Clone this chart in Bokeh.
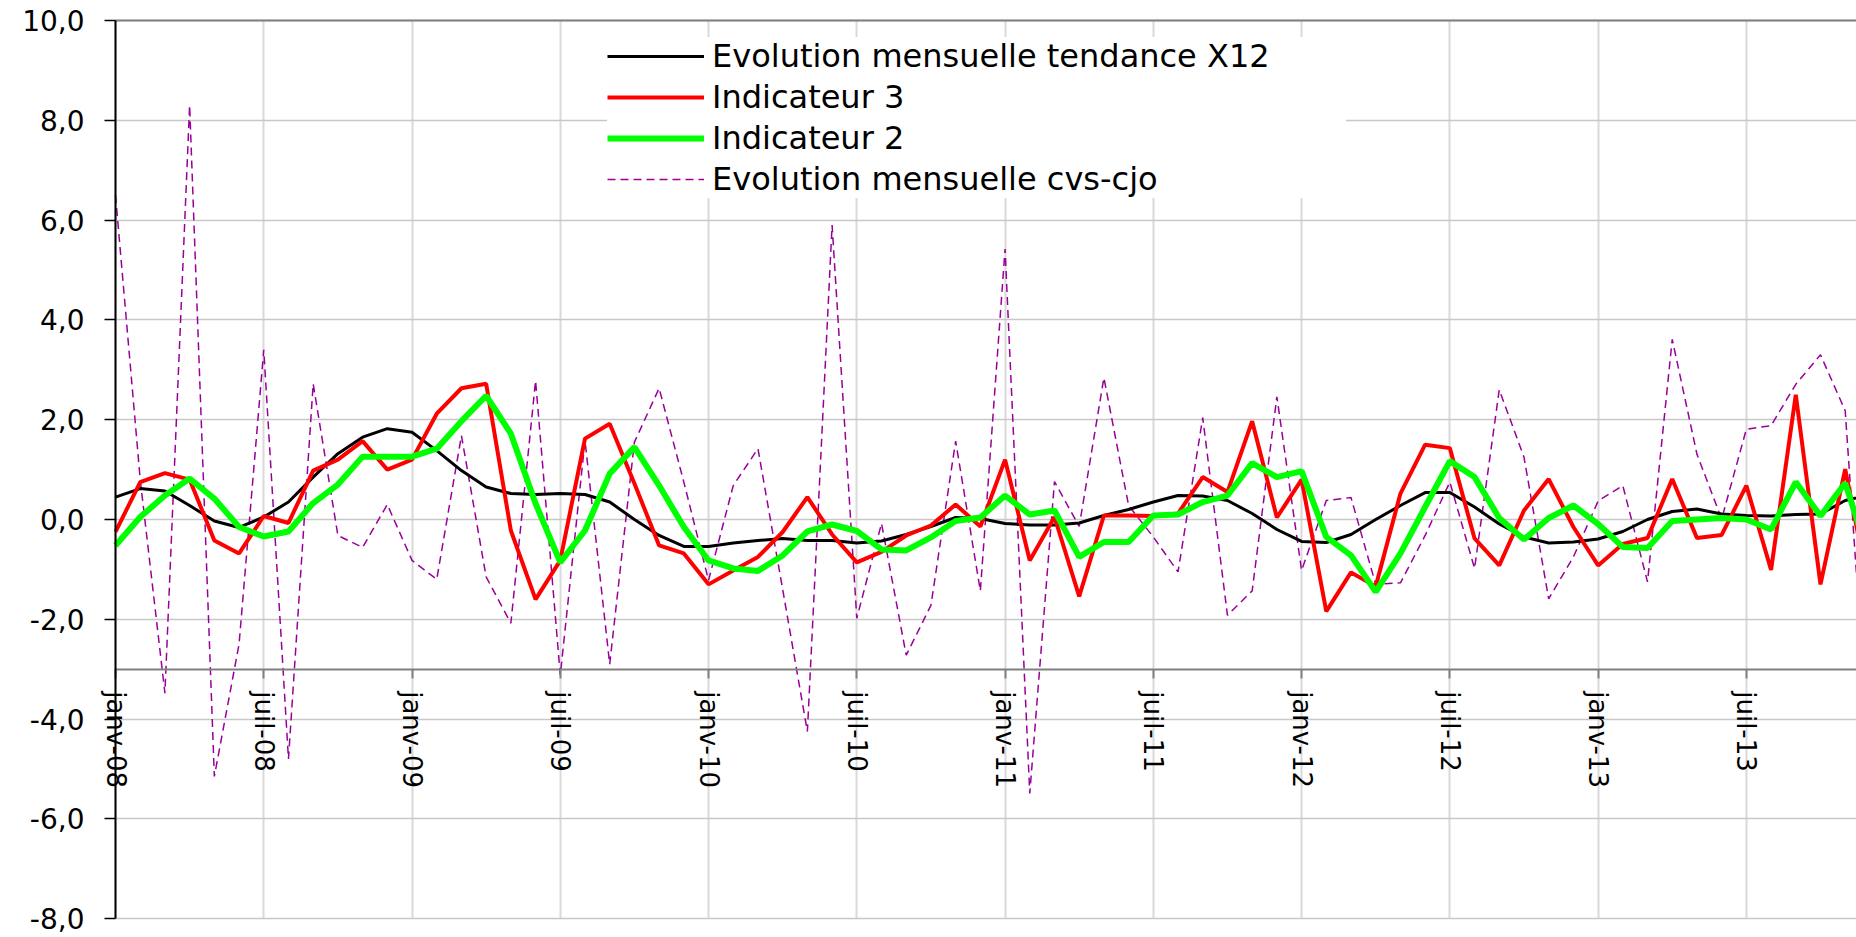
import math
from bokeh.plotting import figure
from bokeh.models import Range1d, FixedTicker, Legend, LegendItem, Label, Grid
from bokeh.embed import file_html
from bokeh.resources import INLINE

# ---- data -------------------------------------------------------------
months = list(range(72))  # janv-08 ... déc-13

tick_months = [0, 6, 12, 18, 24, 30, 36, 42, 48, 54, 60, 66]
tick_labels = ["janv-08", "juil-08", "janv-09", "juil-09", "janv-10", "juil-10",
               "janv-11", "juil-11", "janv-12", "juil-12", "janv-13", "juil-13"]

y_ticks = [-8, -6, -4, -2, 0, 2, 4, 6, 8, 10]
y_tick_labels = ["-8,0", "-6,0", "-4,0", "-2,0", "0,0", "2,0", "4,0", "6,0", "8,0", "10,0"]

x_axis_crossing = -3  # the category axis crosses the value axis at -3

names = ["Evolution mensuelle tendance X12", "Indicateur 3", "Indicateur 2",
         "Evolution mensuelle cvs-cjo"]

tendance_x12 = [0.45, 0.62, 0.57, 0.28, -0.03, -0.16, 0.05, 0.35, 0.85, 1.32, 1.65, 1.82,
                1.75, 1.38, 0.98, 0.65, 0.52, 0.50, 0.52, 0.50, 0.35, 0.00, -0.32, -0.54,
                -0.54, -0.47, -0.42, -0.38, -0.42, -0.42, -0.47, -0.43, -0.30, -0.14, 0.04, 0.02,
                -0.08, -0.11, -0.11, -0.07, 0.08, 0.20, 0.35, 0.48, 0.47, 0.38, 0.12, -0.20,
                -0.44, -0.46, -0.30, 0.00, 0.28, 0.54, 0.54, 0.25, -0.09, -0.35, -0.47, -0.45,
                -0.39, -0.24, 0.00, 0.16, 0.21, 0.11, 0.08, 0.07, 0.10, 0.11, 0.38, 0.50]

indicateur_3 = [-0.25, 0.75, 0.93, 0.80, -0.42, -0.68, 0.07, -0.07, 0.98, 1.20, 1.57, 1.00,
                1.20, 2.12, 2.63, 2.72, -0.22, -1.60, -0.82, 1.62, 1.92, 0.72, -0.52, -0.68,
                -1.30, -1.02, -0.75, -0.25, 0.45, -0.30, -0.86, -0.65, -0.32, -0.12, 0.30, -0.14,
                1.20, -0.82, 0.05, -1.54, 0.08, 0.08, 0.07, 0.12, 0.85, 0.55, 1.97, 0.04,
                0.80, -1.84, -1.06, -1.34, 0.52, 1.50, 1.43, -0.38, -0.92, 0.18, 0.81, -0.15,
                -0.92, -0.49, -0.37, 0.81, -0.37, -0.31, 0.68, -1.01, 2.50, -1.30, 1.01, -1.50]

indicateur_2 = [-0.52, 0.05, 0.48, 0.82, 0.42, -0.15, -0.34, -0.24, 0.33, 0.70, 1.26, 1.26,
                1.26, 1.42, 1.97, 2.48, 1.72, 0.32, -0.86, -0.22, 0.92, 1.45, 0.68, -0.15,
                -0.82, -0.98, -1.03, -0.72, -0.24, -0.10, -0.23, -0.60, -0.62, -0.36, -0.03, 0.04,
                0.48, 0.10, 0.18, -0.75, -0.45, -0.45, 0.08, 0.10, 0.35, 0.48, 1.13, 0.85,
                0.97, -0.35, -0.72, -1.45, -0.68, 0.25, 1.17, 0.85, 0.03, -0.40, 0.03, 0.28,
                -0.09, -0.55, -0.57, -0.03, 0.00, 0.03, 0.00, -0.20, 0.75, 0.07, 0.73, -0.80]

cvs_cjo = [6.50, 0.80, -3.48, 8.30, -5.15, -2.50, 3.40, -4.80, 2.72, -0.32, -0.56, 0.30,
           -0.82, -1.20, 1.68, -1.15, -2.08, 2.78, -3.12, 1.58, -2.90, 1.55, 2.63, 0.75,
           -1.22, 0.68, 1.42, -1.40, -4.25, 5.90, -1.98, -0.08, -2.72, -1.72, 1.57, -1.43,
           5.42, -5.49, 0.76, -0.14, 2.84, 0.28, -0.35, -1.05, 2.04, -1.92, -1.43, 2.46,
           -1.02, 0.38, 0.44, -1.30, -1.27, -0.32, 0.75, -0.98, 2.60, 1.25, -1.59, -0.75,
           0.37, 0.68, -1.25, 3.61, 1.31, 0.01, 1.81, 1.88, 2.71, 3.30, 2.18, -5.00]

# ---- figure -----------------------------------------------------------
FONT = "DejaVu Sans"
W, H = 1856, 936
PX_PER_MONTH = 24.71
PX_PER_UNIT = 49.9
LEFT_PX, TOP_PX = 115, 20          # position of (janv-08, 10,0) on the page

x0 = -LEFT_PX / PX_PER_MONTH
x1 = (W - LEFT_PX) / PX_PER_MONTH
y1 = y_ticks[-1] + TOP_PX / PX_PER_UNIT
y0 = y1 - H / PX_PER_UNIT

p = figure(width=W, height=H,
           x_range=Range1d(x0, x1), y_range=Range1d(y0, y1),
           output_backend="svg", toolbar_location=None,
           min_border_left=0, min_border_right=0, min_border_top=0, min_border_bottom=0,
           background_fill_color="white", border_fill_color="white",
           outline_line_color=None)

x_bounds = (months[0], x1)
y_bounds = (y_ticks[0], y_ticks[-1])

# y axis, placed on janv-08
p.yaxis.fixed_location = months[0]
p.yaxis.bounds = y_bounds
p.yaxis.ticker = FixedTicker(ticks=y_ticks)
p.yaxis.major_label_overrides = dict(zip(y_ticks, y_tick_labels))
p.yaxis.major_label_text_font = FONT
p.yaxis.major_label_text_font_size = "28px"
p.yaxis.major_label_text_color = "black"
p.yaxis.major_label_standoff = 20
p.yaxis.major_tick_out = 11
p.yaxis.major_tick_in = 0
p.yaxis.major_tick_line_color = "black"
p.yaxis.major_tick_line_width = 1.5
p.yaxis.minor_tick_line_color = None
p.yaxis.axis_line_color = "black"
p.yaxis.axis_line_width = 2

# x axis crossing at -3
p.xaxis.fixed_location = x_axis_crossing
p.xaxis.bounds = x_bounds
p.xaxis.ticker = FixedTicker(ticks=tick_months)
p.xaxis.major_label_text_color = None
p.xaxis.major_tick_out = 9
p.xaxis.major_tick_in = 0
p.xaxis.major_tick_line_color = "#808080"
p.xaxis.major_tick_line_width = 2
p.xaxis.minor_tick_line_color = None
p.xaxis.axis_line_color = "#808080"
p.xaxis.axis_line_width = 2

for xm, lab in zip(tick_months, tick_labels):
    p.add_layout(Label(x=xm, y=x_axis_crossing, text=lab,
                       angle=-math.pi / 2, y_offset=-22,
                       text_align="left", text_baseline="middle",
                       text_font=FONT, text_font_size="26px", text_color="black"))

# grids, limited to the plot area
p.ygrid.ticker = p.yaxis[0].ticker
p.ygrid.cross_bounds = x_bounds
p.ygrid.grid_line_color = "#c8c8c8"
p.ygrid.grid_line_width = 1.3
p.xgrid.ticker = p.xaxis[0].ticker
p.xgrid.cross_bounds = y_bounds
p.xgrid.grid_line_color = "#d9d9d9"
p.xgrid.grid_line_width = 2

# darker top border of the plot area
p.add_layout(Grid(dimension=1, ticker=FixedTicker(ticks=[y_ticks[-1]]),
                  cross_bounds=x_bounds, grid_line_color="#808080", grid_line_width=2))

# ---- series -----------------------------------------------------------
r_cvs = p.line(months, cvs_cjo, line_color="#990099", line_width=1.5, line_dash="8 5")
r_x12 = p.line(months, tendance_x12, line_color="black", line_width=3)
r_i3 = p.line(months, indicateur_3, line_color="#ff0000", line_width=4)
r_i2 = p.line(months, indicateur_2, line_color="#00ff00", line_width=6)

legend = Legend(
    items=[LegendItem(label=names[0], renderers=[r_x12]),
           LegendItem(label=names[1], renderers=[r_i3]),
           LegendItem(label=names[2], renderers=[r_i2]),
           LegendItem(label=names[3], renderers=[r_cvs])],
    location=(607, 738),
    margin=0, padding=8, spacing=3,
    glyph_width=97, glyph_height=36,
    label_standoff=8, label_width=634, label_height=36,
    label_text_font=FONT, label_text_font_size="32px", label_text_color="black",
    background_fill_color="white", background_fill_alpha=1.0,
    border_line_color=None,
)
p.add_layout(legend)

open("out.html", "w").write(file_html(p, INLINE))
